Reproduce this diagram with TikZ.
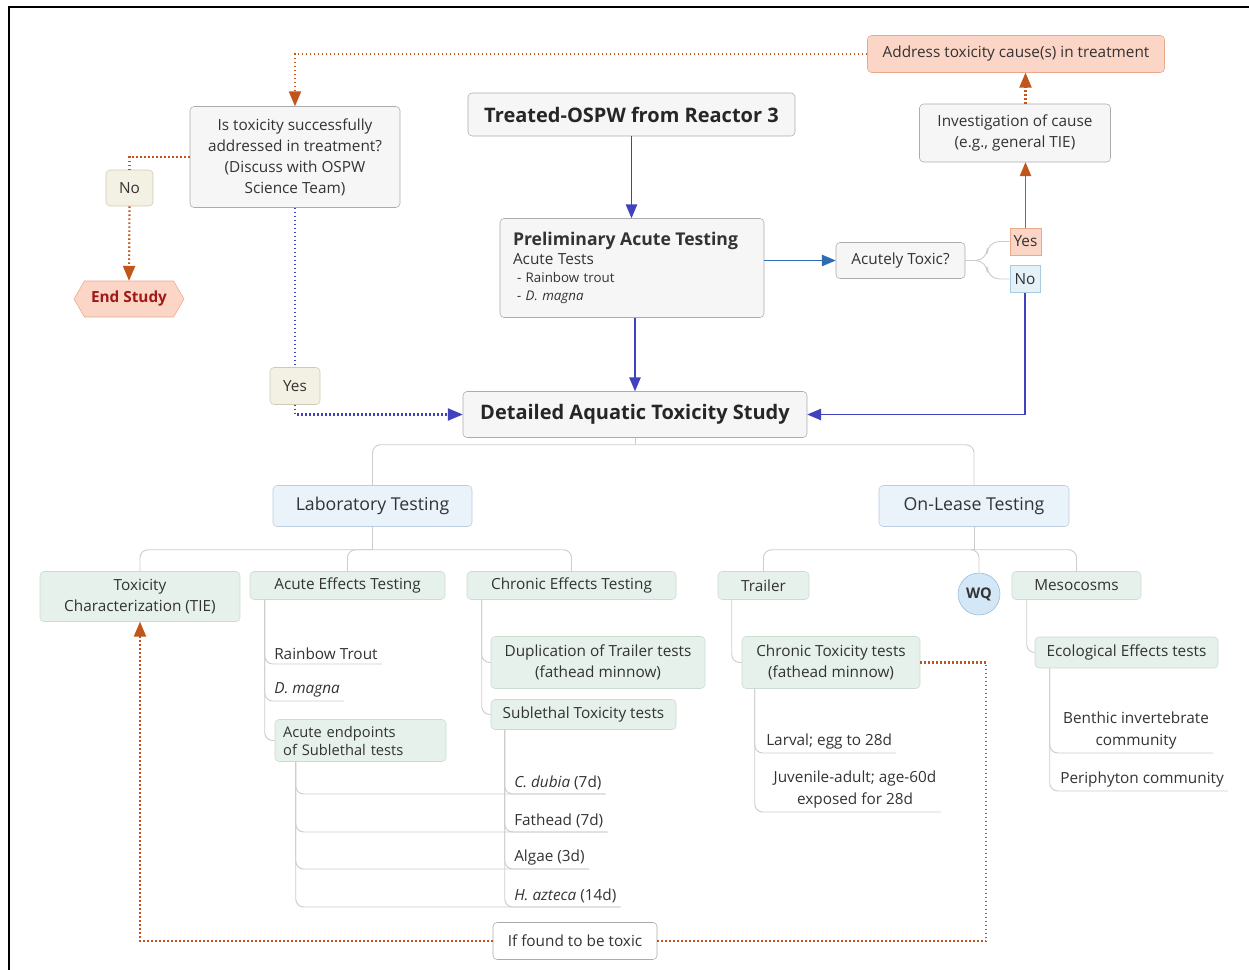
\documentclass[tikz,border=0pt]{standalone}
\usepackage{fontspec}
\setmainfont{Open Sans}
\usetikzlibrary{arrows,shapes,calc}
\definecolor{txt}{HTML}{333333}
\definecolor{endred}{HTML}{A01818}
\definecolor{blueln}{HTML}{4242BE}
\definecolor{steelln}{HTML}{2E6DB4}
\definecolor{orangeln}{HTML}{C0561B}
\definecolor{treecol}{HTML}{CCCCCC}
\definecolor{greyfill}{HTML}{F6F6F6}
\definecolor{greyline}{HTML}{ABABAB}
\definecolor{salmon}{HTML}{FBD5C5}
\definecolor{salmonline}{HTML}{E9A98D}
\definecolor{beige}{HTML}{F3F1E4}
\definecolor{beigeline}{HTML}{CFCAB3}
\definecolor{labfill}{HTML}{EAF2FA}
\definecolor{labline}{HTML}{BCCDE0}
\definecolor{greenfill}{HTML}{E5F1EA}
\definecolor{greenline}{HTML}{CADDD0}
\definecolor{wqfill}{HTML}{D4E7F6}
\definecolor{wqline}{HTML}{93B8D8}
\definecolor{nofill}{HTML}{E4F1F9}
\definecolor{noline}{HTML}{A9CBE0}
\tikzset{
  box/.style={draw=greyline,fill=greyfill,rounded corners=3pt,align=center,text=txt,
    inner sep=0pt,font=\fontsize{11.5}{15.8}\selectfont},
  hot/.style={box,fill=salmon,draw=salmonline},
  tan/.style={box,fill=beige,draw=beigeline},
  lab/.style={box,fill=labfill,draw=labline,font=\fontsize{13.3}{16}\selectfont},
  grn/.style={box,fill=greenfill,draw=greenline},
  title/.style={box,text=black!85,font=\fontsize{15}{18}\selectfont\bfseries},
  leaf/.style={text=txt,inner xsep=3pt,inner ysep=3pt,anchor=south west,
    font=\fontsize{11.5}{15.8}\selectfont},
  treeline/.style={draw=treecol,line width=0.7pt,rounded corners=6pt},
  blueflow/.style={draw=blueln,line width=1.4pt,>=triangle 45},
  orangeflow/.style={draw=orangeln,line width=1.4pt,>=triangle 45},
  bluedots/.style={blueflow,line width=1.6pt,dash pattern=on 1.2pt off 1.8pt},
  orangedots/.style={orangeflow,line width=1.6pt,dash pattern=on 1.2pt off 1.8pt}
}
\begin{document}
\begin{tikzpicture}[x=0.75pt,y=-0.75pt]
\useasboundingbox (0,0) rectangle (1249,970);
\draw[line width=2.2pt] (9,970)--(9,7)--(1249,7);

% top part
\node[hot,minimum width=222.75pt,minimum height=27.75pt] (address) at (1016,54) {Address toxicity cause(s) in treatment};
\node[box,minimum width=143.25pt,minimum height=43.5pt] (invest) at (1015,133) {Investigation of cause\\(e.g., general TIE)};
\node[title,minimum width=245.25pt,minimum height=32.25pt] (treated) at (631.5,114.5) {Treated-OSPW from Reactor 3};
\node[box,minimum width=157.5pt,minimum height=75.75pt] (istox) at (295,157) {Is toxicity successfully\\addressed in treatment?\\(Discuss with OSPW\\Science Team)};
\node[tan,minimum width=35.25pt,minimum height=27pt] (noL) at (129.5,188) {No};
\node[fill=salmon,draw=salmonline,shape=signal,signal to=west and east,signal pointer angle=120,
  minimum width=82.5pt,minimum height=27pt,inner sep=0pt,text=endred,
  font=\fontsize{11.5}{14}\selectfont\bfseries] (endst) at (129,299) {End Study};
\node[box,minimum width=198pt,minimum height=74.25pt,text width=178.5pt,align=left,
  font=\fontsize{10}{13.5}\selectfont] (prelim) at (632,268)
  {{\fontsize{13.2}{15}\selectfont\bfseries Preliminary Acute Testing}\\[1pt]
   {\fontsize{11.5}{13}\selectfont Acute Tests}\\
   \hspace*{3pt}- Rainbow trout\\
   \hspace*{3pt}\textit{- D. magna}};
\node[box,minimum width=96.75pt,minimum height=27pt] (toxic) at (900.5,260.5) {Acutely Toxic?};
\node[box,fill=salmon,draw=salmonline,rounded corners=0pt,minimum width=23.25pt,minimum height=20.25pt] (yesR) at (1025.5,241.5) {Yes};
\node[box,fill=nofill,draw=noline,rounded corners=0pt,minimum width=22.5pt,minimum height=20.25pt] (noR) at (1025,279) {No};
\node[tan,minimum width=37.5pt,minimum height=27.75pt] (yesL) at (295,386) {Yes};
\node[title,minimum width=258pt,minimum height=34.5pt] (detailed) at (635,414.5) {Detailed Aquatic Toxicity Study};

% flow arrows
\draw[blueflow,->] (treated.south) -- (treated.south |- prelim.north);
\draw[blueflow,->] (prelim.south -| detailed.north) -- (detailed.north);
\draw[blueflow,draw=steelln,->] (prelim.east |- toxic.west) -- (toxic.west);
\draw[treeline,rounded corners=9pt] (toxic.east) -- ++(22,0) |- (yesR.west);
\draw[treeline,rounded corners=9pt] (toxic.east) -- ++(22,0) |- (noR.west);
\draw[orangeflow,->] (yesR.north) -- (yesR.north |- invest.south);
\draw[orangedots,->] (yesR.north |- invest.north) -- (yesR.north |- address.south);
\draw[blueflow,->] (noR.south) |- (detailed.east);
\draw[orangedots,->] (address.west) -| (istox.north);
\draw[orangedots] (istox.west) -| (noL.north);
\draw[orangedots,->] (noL.south) -- (endst.north);
\draw[bluedots] (istox.south) -- (yesL.north);
\draw[bluedots,->] (yesL.south) |- (detailed.west);

% second level
\node[lab,minimum width=149.25pt,minimum height=30.75pt] (labt) at (372.5,506) {Laboratory Testing};
\node[lab,minimum width=142.5pt,minimum height=30.75pt] (onlease) at (974,506) {On-Lease Testing};
\draw[treeline] (detailed.south) -- ++(0,7) coordinate (detbus);
\draw[treeline] (detbus) -| (labt.north);
\draw[treeline] (detbus) -| (onlease.north);

% third level
\node[grn,minimum width=150pt,minimum height=37.5pt] (tie) at (140,596.5) {Toxicity\\Characterization (TIE)};
\node[grn,minimum width=146.25pt,minimum height=21pt] (acute) at (347.5,585.5) {Acute Effects Testing};
\node[grn,minimum width=156.75pt,minimum height=21pt] (chronE) at (571.5,585.5) {Chronic Effects Testing};
\node[grn,minimum width=68.25pt,minimum height=21pt] (trailer) at (763.5,585.5) {Trailer};
\node[circle,fill=wqfill,draw=wqline,minimum size=31.5pt,inner sep=0pt,text=txt,
  font=\fontsize{11}{13}\selectfont\bfseries] (wq) at (979,594) {WQ};
\node[grn,minimum width=96.75pt,minimum height=21pt] (meso) at (1076.5,585.5) {Mesocosms};
\draw[treeline] (labt.south) -- ++(0,23) coordinate (labbus);
\draw[treeline] (labbus) -| (tie.north);
\draw[treeline] (labbus) -| (acute.north);
\draw[treeline] (labbus) -| (chronE.north);
\draw[treeline] (onlease.south) -- ++(0,23) coordinate (onbus);
\draw[treeline] (onbus) -| (trailer.north);
\draw[treeline] (onbus) -| (wq.north);
\draw[treeline] (onbus) -| (meso.north);

% fourth level
\node[leaf] (trout) at (270,664) {Rainbow Trout};
\node[leaf] (dmagna) at (270,701) {\textit{D. magna}};
\node[grn,minimum width=128.25pt,minimum height=31.5pt,text width=116pt,align=left,
  font=\fontsize{11}{13.5}\selectfont] (endpts) at (360.5,740.5) {Acute endpoints\\of Sublethal tests};
\node[grn,minimum width=160.5pt,minimum height=39pt] (dup) at (598,662.5) {Duplication of Trailer tests\\(fathead minnow)};
\node[grn,minimum width=138.75pt,minimum height=22.5pt] (subl) at (583.5,714.5) {Sublethal Toxicity tests};
\node[grn,minimum width=133.5pt,minimum height=39pt] (chronT) at (831,662.5) {Chronic Toxicity tests\\(fathead minnow)};
\node[grn,minimum width=137.25pt,minimum height=23.25pt] (eco) at (1126.5,652.5) {Ecological Effects tests};
\draw[treeline] ($(acute.south west)+(15,0)$) |- (trout.south east);
\draw[treeline] ($(acute.south west)+(15,0)$) |- (dmagna.south east);
\draw[treeline] ($(acute.south west)+(15,0)$) |- (endpts.west);
\draw[treeline] ($(chronE.south west)+(15,0)$) |- (dup.west);
\draw[treeline] ($(chronE.south west)+(15,0)$) |- (subl.west);
\draw[treeline] ($(trailer.south west)+(14,0)$) |- (chronT.west);
\draw[treeline] ($(meso.south west)+(15,0)$) |- (eco.west);

% fifth level
\node[leaf] (cdub) at (510,794) {\textit{C. dubia} (7d)};
\node[leaf] (fathead) at (510,832) {Fathead (7d)};
\node[leaf] (algae) at (510,869) {Algae (3d)};
\node[leaf] (hazt) at (510,907) {\textit{H. azteca} (14d)};
\node[leaf] (larval) at (762,753) {Larval; egg to 28d};
\node[leaf,anchor=south,align=center] (juv) at (855,812) {Juvenile-adult; age-60d\\exposed for 28d};
\node[leaf,anchor=south,align=center] (benthic) at (1136,753) {Benthic invertebrate\\community};
\node[leaf] (periph) at (1056,791) {Periphyton community};
\foreach \n in {cdub,fathead,algae,hazt}{
  \draw[treeline] ($(subl.south west)+(14,0)$) |- (\n.south east);
  \draw[treeline] ($(endpts.south west)+(21,0)$) |- (\n.south east);
}
\draw[treeline] ($(chronT.south west)+(13,0)$) |- (larval.south east);
\draw[treeline] ($(chronT.south west)+(13,0)$) |- (juv.south east);
\draw[treeline] ($(eco.south west)+(15,0)$) |- (benthic.south east);
\draw[treeline] ($(eco.south west)+(15,0)$) |- (periph.south east);

% toxic feedback
\node[box,fill=white,minimum width=123pt,minimum height=27.75pt] (found) at (575,941) {If found to be toxic};
\draw[orangedots] (chronT.east) -- ++(66,0) |- (found.east);
\draw[orangedots,->] (found.west) -| (tie.south);
\end{tikzpicture}
\end{document}
